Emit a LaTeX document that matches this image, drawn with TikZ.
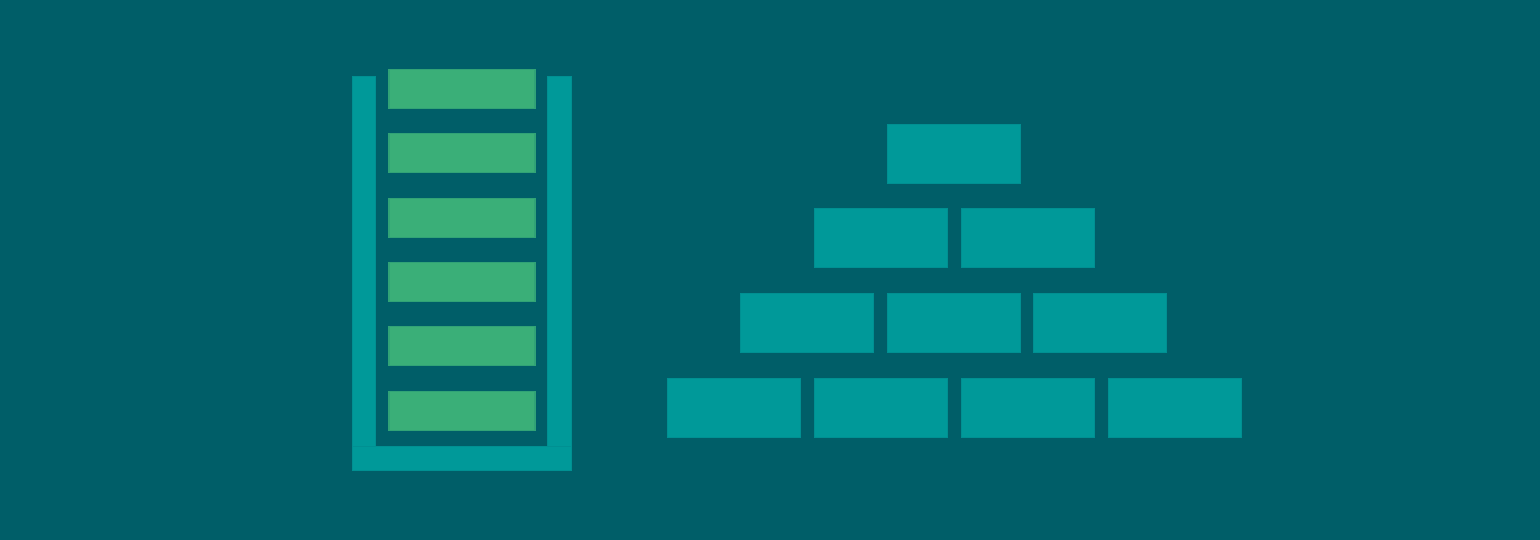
\documentclass[tikz,border=0pt]{standalone}
\usepackage{tikz}

\definecolor{bgpetrol}{RGB}{0,94,104}
\definecolor{tealblock}{RGB}{0,153,153}
\definecolor{greenbar}{RGB}{58,175,120}

\tikzset{
  brick/.style={rectangle,fill=tealblock,draw=tealblock!85!bgpetrol,line width=0.3pt,minimum width=1.325cm,minimum height=0.593cm,inner sep=0,outer sep=0},
  rung/.style={rectangle,fill=greenbar,draw=greenbar!85!bgpetrol,line width=0.3pt,minimum width=1.46cm,minimum height=0.39cm,inner sep=0,outer sep=0},
  wall/.style={rectangle,fill=tealblock,draw=tealblock!85!bgpetrol,line width=0.3pt,inner sep=0,outer sep=0}
}

\begin{document}
\begin{tikzpicture}

\fill[bgpetrol] (0,0) rectangle (15.4,5.4);
\useasboundingbox (0,0) rectangle (15.4,5.4);

% container
\node (LeftWall) at (3.643,2.663) [wall,minimum width=0.233cm,minimum height=3.94cm] {};
\node (RightWall) at (5.595,2.663) [wall,minimum width=0.233cm,minimum height=3.94cm] {};
\node (Floor) at (4.619,0.813) [wall,minimum width=2.183cm,minimum height=0.24cm] {};

% stacked rungs
\node (Rung1) at (4.62,4.512) [rung] {};
\node (Rung2) at (4.62,3.868) [rung] {};
\node (Rung3) at (4.62,3.224) [rung] {};
\node (Rung4) at (4.62,2.581) [rung] {};
\node (Rung5) at (4.62,1.937) [rung] {};
\node (Rung6) at (4.62,1.293) [rung] {};

% pyramid
\node (TopA) at (9.54,3.863) [brick] {};

\node (SecondA) at (8.81,3.017) [brick] {};
\node (SecondB) at (10.28,3.017) [brick] {};

\node (ThirdA) at (8.07,2.17) [brick] {};
\node (ThirdB) at (9.54,2.17) [brick] {};
\node (ThirdC) at (11.00,2.17) [brick] {};

\node (BaseA) at (7.34,1.323) [brick] {};
\node (BaseB) at (8.81,1.323) [brick] {};
\node (BaseC) at (10.28,1.323) [brick] {};
\node (BaseD) at (11.75,1.323) [brick] {};

\end{tikzpicture}
\end{document}
